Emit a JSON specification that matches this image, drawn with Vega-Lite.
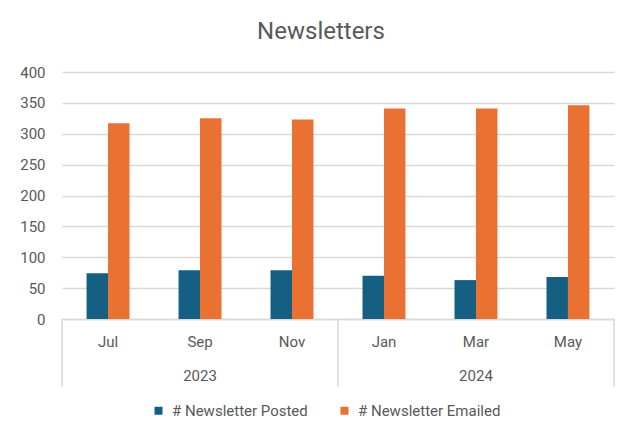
{
  "$schema": "https://vega.github.io/schema/vega-lite/v6.json",
  "width": 552,
  "height": 247,
  "autosize": {"type": "none"},
  "padding": {"left": 62, "top": 72, "right": 13, "bottom": 107},
  "background": "white",
  "config": {"view": {"stroke": null}, "font": "Roboto"},
  "title": {"text": "Newsletters", "fontSize": 24, "fontWeight": "normal", "color": "#595959", "offset": 21, "dx": -17, "anchor": "middle", "font": "Roboto"},
  "datasets": {
    "bars": [
      {"month": "Jul", "year": "2023", "series": "# Newsletter Posted", "value": 74},
      {"month": "Jul", "year": "2023", "series": "# Newsletter Emailed", "value": 317},
      {"month": "Sep", "year": "2023", "series": "# Newsletter Posted", "value": 79},
      {"month": "Sep", "year": "2023", "series": "# Newsletter Emailed", "value": 325},
      {"month": "Nov", "year": "2023", "series": "# Newsletter Posted", "value": 79},
      {"month": "Nov", "year": "2023", "series": "# Newsletter Emailed", "value": 323},
      {"month": "Jan", "year": "2024", "series": "# Newsletter Posted", "value": 70},
      {"month": "Jan", "year": "2024", "series": "# Newsletter Emailed", "value": 341},
      {"month": "Mar", "year": "2024", "series": "# Newsletter Posted", "value": 63},
      {"month": "Mar", "year": "2024", "series": "# Newsletter Emailed", "value": 341},
      {"month": "May", "year": "2024", "series": "# Newsletter Posted", "value": 68},
      {"month": "May", "year": "2024", "series": "# Newsletter Emailed", "value": 346}
    ],
    "years": [
      {"month": "Sep", "year": "2023"},
      {"month": "Mar", "year": "2024"}
    ],
    "sepStart": [
      {"month": "Jul"},
      {"month": "Jan"}
    ],
    "sepEnd": [
      {"month": "May"}
    ]
  },
  "layer": [
    {
      "data": {"name": "bars"},
      "mark": {"type": "bar"},
      "encoding": {
        "x": {
          "field": "month", "type": "nominal",
          "sort": ["Jul", "Sep", "Nov", "Jan", "Mar", "May"],
          "scale": {"domain": ["Jul", "Sep", "Nov", "Jan", "Mar", "May"], "paddingInner": 0.533, "paddingOuter": 0.267},
          "axis": {"title": null, "labelAngle": 0, "ticks": false, "domain": true, "domainColor": "#d9d9d9", "domainWidth": 1.5, "labelPadding": 15, "labelFontSize": 15, "labelColor": "#595959", "grid": false}
        },
        "xOffset": {
          "field": "series", "type": "nominal",
          "scale": {"domain": ["# Newsletter Posted", "# Newsletter Emailed"], "paddingInner": 0, "paddingOuter": 0}
        },
        "y": {
          "field": "value", "type": "quantitative",
          "scale": {"domain": [0, 400], "nice": false},
          "axis": {"title": null, "values": [0, 50, 100, 150, 200, 250, 300, 350, 400], "labelOverlap": false, "grid": true, "gridColor": "#d9d9d9", "gridWidth": 1.5, "domain": false, "ticks": false, "labelPadding": 17, "labelFontSize": 15, "labelColor": "#595959"}
        },
        "color": {
          "field": "series", "type": "nominal",
          "scale": {"domain": ["# Newsletter Posted", "# Newsletter Emailed"], "range": ["#156082", "#E97132"]},
          "legend": {"title": null, "orient": "none", "legendX": 89, "legendY": 331, "direction": "horizontal", "symbolType": "square", "symbolSize": 64, "symbolStrokeWidth": 0, "labelFontSize": 15, "labelColor": "#595959", "labelOffset": 6, "columnPadding": 29}
        }
      }
    },
    {
      "data": {"name": "years"},
      "mark": {"type": "text", "dy": 57, "baseline": "middle", "fontSize": 15, "color": "#595959"},
      "encoding": {
        "x": {"field": "month", "type": "nominal"},
        "y": {"datum": 0, "type": "quantitative", "axis": {"title": null, "values": [0, 50, 100, 150, 200, 250, 300, 350, 400], "labelOverlap": false, "grid": true, "gridColor": "#d9d9d9", "gridWidth": 1.5, "domain": false, "ticks": false, "labelPadding": 17, "labelFontSize": 15, "labelColor": "#595959"}},
        "text": {"field": "year"}
      }
    },
    {
      "data": {"name": "sepStart"},
      "mark": {"type": "rule", "color": "#d9d9d9", "strokeWidth": 1.5},
      "encoding": {
        "x": {"field": "month", "type": "nominal", "bandPosition": -0.57},
        "y": {"datum": 0, "type": "quantitative", "axis": {"title": null, "values": [0, 50, 100, 150, 200, 250, 300, 350, 400], "labelOverlap": false, "grid": true, "gridColor": "#d9d9d9", "gridWidth": 1.5, "domain": false, "ticks": false, "labelPadding": 17, "labelFontSize": 15, "labelColor": "#595959"}},
        "y2": {"datum": -110}
      }
    },
    {
      "data": {"name": "sepEnd"},
      "mark": {"type": "rule", "color": "#d9d9d9", "strokeWidth": 1.5},
      "encoding": {
        "x": {"field": "month", "type": "nominal", "bandPosition": 1.57},
        "y": {"datum": 0, "type": "quantitative", "axis": {"title": null, "values": [0, 50, 100, 150, 200, 250, 300, 350, 400], "labelOverlap": false, "grid": true, "gridColor": "#d9d9d9", "gridWidth": 1.5, "domain": false, "ticks": false, "labelPadding": 17, "labelFontSize": 15, "labelColor": "#595959"}},
        "y2": {"datum": -110}
      }
    }
  ]
}
